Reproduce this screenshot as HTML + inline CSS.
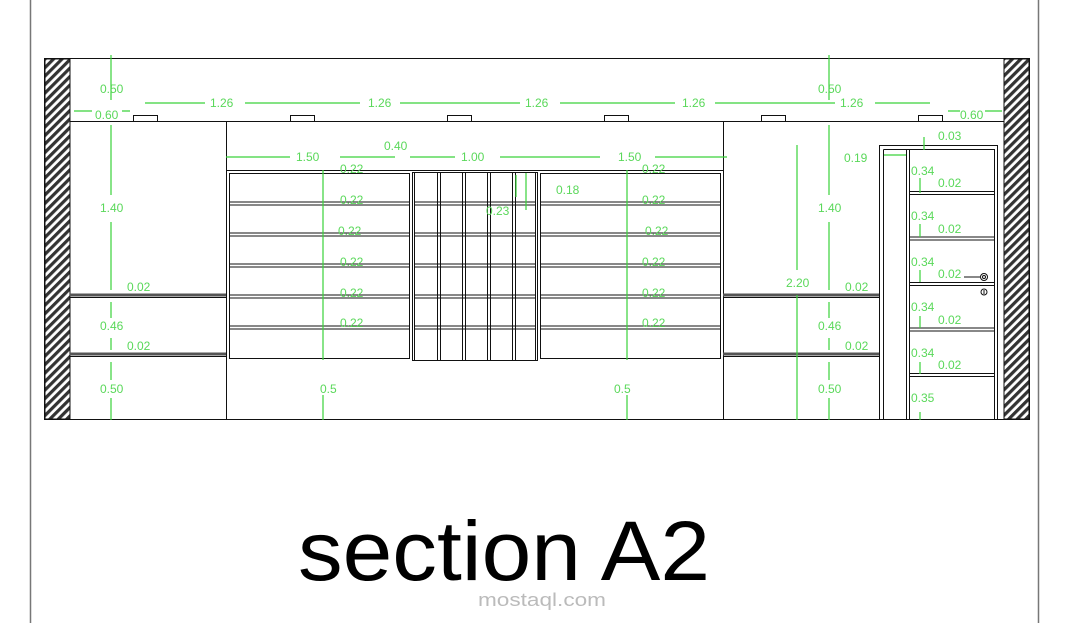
<!DOCTYPE html>
<html><head><meta charset="utf-8"><style>
html,body{margin:0;padding:0;background:#fff;}
svg{display:block;}
text{font-family:"Liberation Sans",sans-serif;}
.g{stroke:#3ad23a;stroke-width:1.2;fill:none}
.t{fill:#5ad85a;font-size:12px}
.k{stroke:#111;stroke-width:1;fill:none}
.s{stroke:#555;stroke-width:3;fill:none}
</style></head><body>
<svg width="1080" height="623" viewBox="0 0 1080 623" xmlns="http://www.w3.org/2000/svg">
<defs>
<pattern id="h" width="6" height="6" patternUnits="userSpaceOnUse" patternTransform="rotate(45)">
<rect width="6" height="6" fill="#fff"/><rect width="3.2" height="6" fill="#333"/>
</pattern>
</defs>
<line x1="30.5" y1="0" x2="30.5" y2="623" stroke="#777" stroke-width="1.5"/>
<line x1="1038.5" y1="0" x2="1038.5" y2="623" stroke="#777" stroke-width="1.5"/>
<rect x="44.5" y="58.5" width="985" height="361" class="k" stroke-width="1.3"/>
<rect x="45" y="59" width="25" height="360" fill="url(#h)" stroke="#111"/>
<rect x="1004" y="59" width="25" height="360" fill="url(#h)" stroke="#111"/>
<line x1="70" y1="121.5" x2="1004" y2="121.5" class="k"/>
<g class="k">
<rect x="133.5" y="115.5" width="24" height="6"/><rect x="290.5" y="115.5" width="24" height="6"/>
<rect x="447.5" y="115.5" width="24" height="6"/><rect x="604.5" y="115.5" width="24" height="6"/>
<rect x="761.5" y="115.5" width="24" height="6"/><rect x="918.5" y="115.5" width="24" height="6"/>
</g>
<line x1="226.5" y1="121" x2="226.5" y2="419" class="k"/>
<line x1="723.5" y1="121" x2="723.5" y2="419" class="k"/>
<line x1="226" y1="170.5" x2="723" y2="170.5" class="k"/>
<g>
<line x1="70" y1="295" x2="226" y2="295" class="s" stroke-width="1.2"/><line x1="70" y1="297.5" x2="226" y2="297.5" class="k"/>
<line x1="70" y1="354" x2="226" y2="354" class="s" stroke-width="1.2"/><line x1="70" y1="356.5" x2="226" y2="356.5" class="k"/>
<line x1="723" y1="295" x2="880" y2="295" class="s" stroke-width="1.2"/><line x1="723" y1="297.5" x2="880" y2="297.5" class="k"/>
<line x1="723" y1="354" x2="880" y2="354" class="s" stroke-width="1.2"/><line x1="723" y1="356.5" x2="880" y2="356.5" class="k"/>
</g>
<rect x="229.5" y="173.5" width="180" height="185" class="k"/>
<rect x="540.5" y="173.5" width="180" height="185" class="k"/>
<g class="k" stroke-width="1">
<path d="M230 202H409M230 205H409M230 233H409M230 236H409M230 264H409M230 267H409M230 295H409M230 298H409M230 326H409M230 329H409"/>
<path d="M541 202H720M541 205H720M541 233H720M541 236H720M541 264H720M541 267H720M541 295H720M541 298H720M541 326H720M541 329H720"/>
</g>
<g class="k">
<rect x="412.5" y="172.5" width="125" height="188"/>
<path d="M414.5 173V360M437.5 173V360M440.5 173V360M462.5 173V360M465.5 173V360M487.5 173V360M490.5 173V360M512.5 173V360M515.5 173V360M535.5 173V360"/>
<path d="M414 202H536M414 205H536M414 233H536M414 236H536M414 264H536M414 267H536M414 295H536M414 298H536M414 326H536M414 329H536"/>
</g>
<g class="k">
<rect x="879.5" y="145.5" width="118" height="274"/>
<path d="M883.5 149.5H994.5V419M883.5 149.5V419M906.5 149V419M909.5 149V419"/>
<path d="M910 191.5H994M910 194.5H994M910 237H994M910 240H994M910 282.5H994M910 285.5H994M910 328H994M910 331H994M910 373.5H994M910 376.5H994"/>
<line x1="964" y1="277" x2="980" y2="277"/>
<circle cx="984" cy="277" r="3.5"/><circle cx="984" cy="277" r="1.5"/>
<circle cx="984" cy="292" r="3"/><line x1="984" y1="290" x2="984" y2="294"/>
</g>
<g class="g">
<path d="M111 55V100M111 125V195M111 222V290M111 302V318M111 338V350M111 362V380M111 398V420"/>
<path d="M74 111H92M122 111H130M145 103H205M245 103H360M400 103H520M560 103H675M715 103H835M875 103H930M948 111H960M985 111H1002"/>
<path d="M226 157H290M340 157H395M410 157H455M500 157H600M655 157H727"/>
<path d="M323 170V360M323 395V420M627 170V360M627 395V420"/>
<path d="M829 55V100M829 125V195M829 222V290M829 302V318M829 338V350M829 362V380M829 398V420"/>
<path d="M797 145V270M797 295V420"/>
<path d="M884 155H906M924 137V150"/>
<path d="M516 175V190M526 173V210M516 190V197"/>
<path d="M920 193V178M920 237V224M920 282V270M920 328V316M920 374V362M920 420V412"/>
</g>
<g class="t">
<text x="100" y="93">0.50</text><text x="95" y="119">0.60</text>
<text x="210" y="107">1.26</text><text x="368" y="107">1.26</text><text x="525" y="107">1.26</text>
<text x="682" y="107">1.26</text><text x="840" y="107">1.26</text><text x="960" y="119">0.60</text>
<text x="818" y="93">0.50</text>
<text x="100" y="212">1.40</text><text x="127" y="291">0.02</text><text x="100" y="330">0.46</text>
<text x="127" y="350">0.02</text><text x="100" y="393">0.50</text>
<text x="384" y="150">0.40</text><text x="296" y="161">1.50</text><text x="461" y="161">1.00</text><text x="618" y="161">1.50</text>
<text x="340" y="173">0.22</text><text x="340" y="204">0.22</text><text x="338" y="235">0.22</text>
<text x="340" y="266">0.22</text><text x="340" y="297">0.22</text><text x="340" y="327">0.22</text>
<text x="642" y="173">0.22</text><text x="642" y="204">0.22</text><text x="645" y="235">0.22</text>
<text x="642" y="266">0.22</text><text x="642" y="297">0.22</text><text x="642" y="327">0.22</text>
<text x="556" y="194">0.18</text><text x="486" y="215">0.23</text>
<text x="320" y="393">0.5</text><text x="614" y="393">0.5</text>
<text x="786" y="287">2.20</text>
<text x="818" y="212">1.40</text><text x="845" y="291">0.02</text><text x="818" y="330">0.46</text>
<text x="845" y="350">0.02</text><text x="818" y="393">0.50</text>
<text x="844" y="162">0.19</text>
<text x="938" y="140">0.03</text>
<text x="911" y="175">0.34</text><text x="938" y="187">0.02</text>
<text x="911" y="220">0.34</text><text x="938" y="233">0.02</text>
<text x="911" y="266">0.34</text><text x="938" y="278">0.02</text>
<text x="911" y="311">0.34</text><text x="938" y="324">0.02</text>
<text x="911" y="357">0.34</text><text x="938" y="369">0.02</text>
<text x="911" y="402">0.35</text>
</g>
<text x="298" y="580" font-size="84" textLength="412" lengthAdjust="spacingAndGlyphs" fill="#000">section A2</text>
<text x="478" y="606" font-size="18" fill="#bbb" textLength="128" lengthAdjust="spacingAndGlyphs">mostaql.com</text>
</svg>
</body></html>
